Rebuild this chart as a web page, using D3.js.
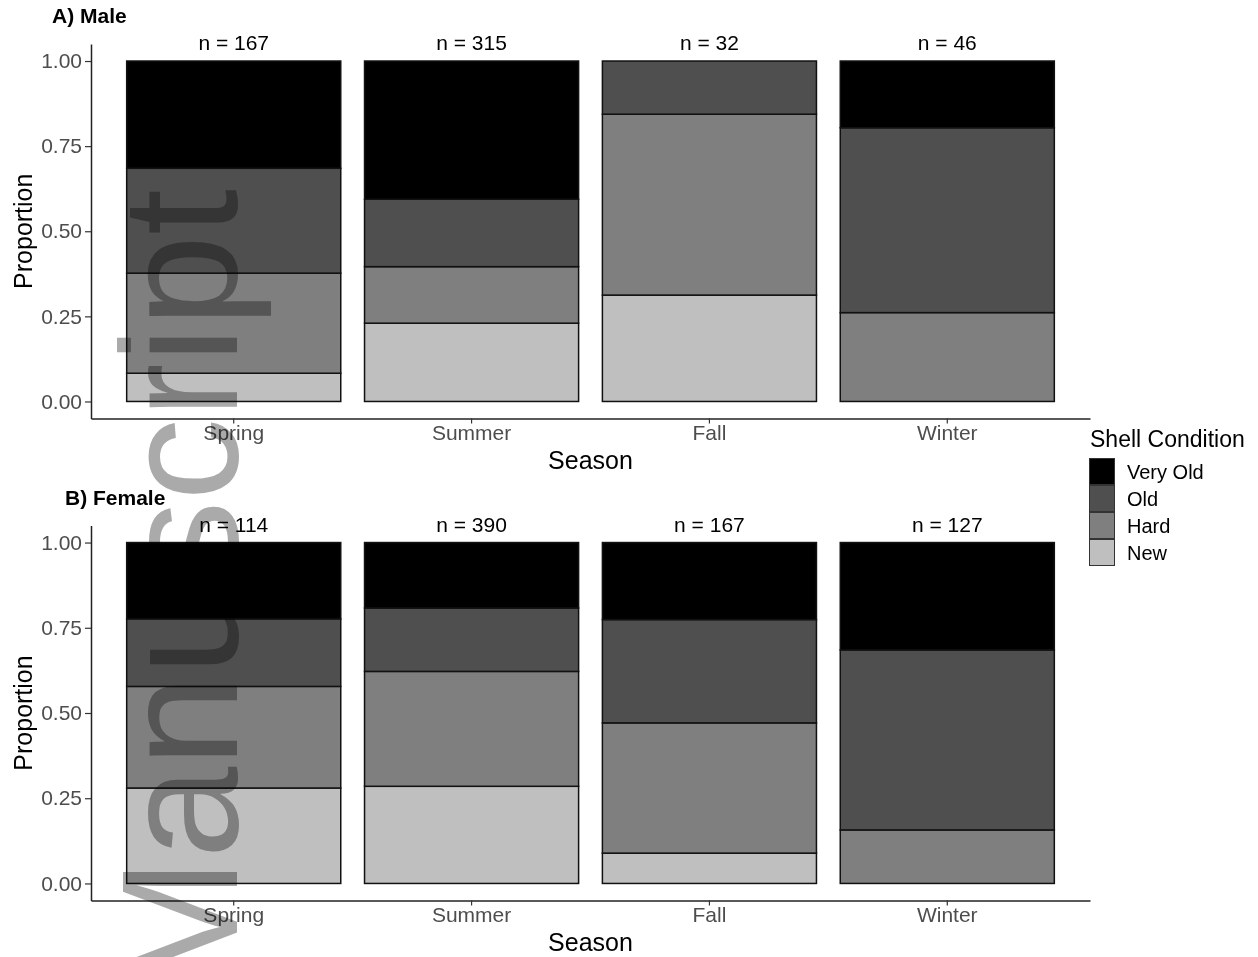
<!DOCTYPE html>
<html>
<head>
<meta charset="utf-8">
<script src="https://cdn.jsdelivr.net/npm/d3@7"></script>
<style>
  html, body { margin: 0; padding: 0; background: #ffffff; }
  svg { display: block; font-family: "Liberation Sans", Arial, sans-serif; }
</style>
</head>
<body>
<svg id="chart" width="1258" height="957"></svg>
<script>
// ---------------- DATA ----------------
const seasons = ["Spring", "Summer", "Fall", "Winter"];
const conditions = ["Very Old", "Old", "Hard", "New"];   // legend order (top of stack first)
const conditionFills = ["#000000", "#4f4f4f", "#7f7f7f", "#bfbfbf"];
const yTickValues = [0, 0.25, 0.5, 0.75, 1.0];

const maleN = [167, 315, 32, 46];
const maleNew     = [0.083, 0.230, 0.3125, 0.000];
const maleHard    = [0.294, 0.166, 0.5313, 0.261];
const maleOld     = [0.308, 0.198, 0.1562, 0.543];
const maleVeryOld = [0.315, 0.406, 0.000, 0.196];

const femaleN = [114, 390, 167, 127];
const femaleNew     = [0.280, 0.285, 0.089, 0.000];
const femaleHard    = [0.298, 0.337, 0.382, 0.157];
const femaleOld     = [0.198, 0.186, 0.303, 0.528];
const femaleVeryOld = [0.224, 0.192, 0.226, 0.315];

const watermarkText = "Manuscript";

// ---------------- BUILD ----------------
function buildRows(nArr, nw, hd, od, vo) {
  return seasons.map((s, i) => ({
    season: s, n: nArr[i],
    "New": nw[i], "Hard": hd[i], "Old": od[i], "Very Old": vo[i]
  }));
}

const panels = [
  { title: "A) Male", titleX: 52, titleY: 23, yBottom: 418.5, yTop: 44,
    rows: buildRows(maleN, maleNew, maleHard, maleOld, maleVeryOld) },
  { title: "B) Female", titleX: 65, titleY: 505, yBottom: 900.5, yTop: 525.5,
    rows: buildRows(femaleN, femaleNew, femaleHard, femaleOld, femaleVeryOld) }
];

const svg = d3.select("#chart");
svg.append("rect").attr("width", 1258).attr("height", 957).attr("fill", "#ffffff");

const fillScale = d3.scaleOrdinal().domain(conditions).range(conditionFills);
const stackKeys = conditions.slice().reverse(); // New at bottom ... Very Old on top
const stack = d3.stack().keys(stackKeys);

const x = d3.scaleBand().domain(seasons).range([91, 1090])
  .paddingInner(0.1).paddingOuter(0.15);

panels.forEach(p => {
  const g = svg.append("g");
  const y = d3.scaleLinear().domain([-0.05, 1.05]).range([p.yBottom, p.yTop]);

  // bars
  const series = stack(p.rows);
  series.forEach(s => {
    g.append("g").selectAll("rect")
      .data(s.filter(d => d[1] - d[0] > 0))
      .join("rect")
      .attr("x", d => x(d.data.season))
      .attr("width", x.bandwidth())
      .attr("y", d => y(d[1]))
      .attr("height", d => y(d[0]) - y(d[1]))
      .attr("fill", fillScale(s.key))
      .attr("stroke", "#111111")
      .attr("stroke-width", 1.5);
  });

  // n labels
  g.append("g").selectAll("text")
    .data(p.rows)
    .join("text")
    .attr("x", d => x(d.season) + x.bandwidth() / 2)
    .attr("y", y(1) - 11)
    .attr("text-anchor", "middle")
    .attr("font-size", 21)
    .attr("fill", "#000")
    .text(d => "n = " + d.n);

  // y axis
  const yAxis = g.append("g").attr("transform", `translate(${x.range()[0]},0)`)
    .call(d3.axisLeft(y).tickValues(yTickValues).tickFormat(d3.format(".2f"))
      .tickSize(6).tickSizeOuter(0).tickPadding(3));
  yAxis.select(".domain").attr("stroke", "#222").attr("stroke-width", 1.5);
  yAxis.selectAll(".tick line").attr("stroke", "#333").attr("stroke-width", 1.2);
  yAxis.selectAll(".tick text").attr("fill", "#4d4d4d").attr("font-size", 21)
    .attr("font-family", "Liberation Sans, Arial, sans-serif");

  // x axis
  const xAxis = g.append("g").attr("transform", `translate(0,${p.yBottom})`)
    .call(d3.axisBottom(x).tickSize(5).tickSizeOuter(0).tickPadding(2));
  xAxis.select(".domain").attr("stroke", "#222").attr("stroke-width", 1.5);
  xAxis.selectAll(".tick line").attr("stroke", "#333").attr("stroke-width", 1.2);
  xAxis.selectAll(".tick text").attr("fill", "#4d4d4d").attr("font-size", 21)
    .attr("font-family", "Liberation Sans, Arial, sans-serif");

  // axis titles
  g.append("text")
    .attr("x", (x.range()[0] + x.range()[1]) / 2)
    .attr("y", p.yBottom + 50)
    .attr("text-anchor", "middle")
    .attr("font-size", 25)
    .attr("fill", "#000")
    .text("Season");

  g.append("text")
    .attr("transform", `translate(32,${(y(0) + y(1)) / 2}) rotate(-90)`)
    .attr("text-anchor", "middle")
    .attr("font-size", 25)
    .attr("fill", "#000")
    .text("Proportion");

  // panel title
  g.append("text")
    .attr("x", p.titleX)
    .attr("y", p.titleY)
    .attr("font-size", 21)
    .attr("font-weight", "bold")
    .attr("fill", "#000")
    .text(p.title);
});

// legend
const legend = svg.append("g").attr("transform", "translate(1089,447)");
legend.append("text")
  .attr("x", 1).attr("y", 0)
  .attr("font-size", 23)
  .attr("fill", "#000")
  .text("Shell Condition");
const keyH = 27;
const items = legend.selectAll("g.item")
  .data(conditions)
  .join("g")
  .attr("class", "item")
  .attr("transform", (d, i) => `translate(0,${11 + i * keyH})`);
items.append("rect")
  .attr("x", 0.5).attr("y", 0.5)
  .attr("width", 25).attr("height", keyH - 1)
  .attr("fill", d => fillScale(d))
  .attr("stroke", "#333")
  .attr("stroke-width", 1);
items.append("text")
  .attr("x", 38).attr("y", keyH / 2 + 7)
  .attr("font-size", 20)
  .attr("fill", "#000")
  .text(d => d);

// watermark (background stamp of the source page)
svg.append("text")
  .attr("transform", "translate(237,996) rotate(-90)")
  .attr("font-size", 165)
  .attr("fill", "#aaaaaa")
  .style("mix-blend-mode", "multiply")
  .text(watermarkText);
</script>
</body>
</html>
